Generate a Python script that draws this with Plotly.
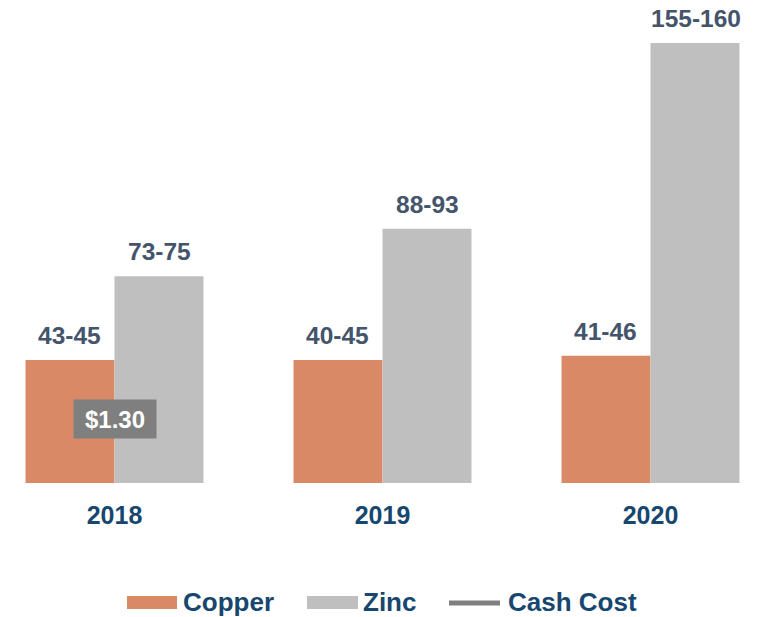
import plotly.graph_objects as go

years = ["2018", "2019", "2020"]
copper_values = [44, 44, 45.5]
zinc_values = [74, 91, 157.5]
copper_labels = ["43-45", "40-45", "41-46"]
zinc_labels = ["73-75", "88-93", "155-160"]
cash_cost = [1.30]
legend_names = ["Copper", "Zinc", "Cash Cost"]

COPPER = "#DA8966"
ZINC = "#BFBFBF"
CASH = "#7F7F7F"
VAL_COLOR = "#44546A"
CAT_COLOR = "#17476F"
FONT = "Liberation Sans, Arial, sans-serif"

W, H = 762, 617
base_px = 483
fig = go.Figure()
fig.add_trace(go.Bar(x=years, y=copper_values, name=legend_names[0], marker_color=COPPER,
                     marker_line_width=0, showlegend=False, hoverinfo="skip"))
fig.add_trace(go.Bar(x=years, y=zinc_values, name=legend_names[1], marker_color=ZINC,
                     marker_line_width=0, showlegend=False, hoverinfo="skip"))

# value labels (category index positions)
for i, y in enumerate(years):
    fig.add_annotation(x=i, y=copper_values[i], text=f"<b>{copper_labels[i]}</b>", showarrow=False,
                       xshift=-45, yanchor="bottom", yshift=9,
                       font=dict(family=FONT, size=24.5, color=VAL_COLOR))
    fig.add_annotation(x=i, y=zinc_values[i], text=f"<b>{zinc_labels[i]}</b>", showarrow=False,
                       xshift=45, yanchor="bottom", yshift=9,
                       font=dict(family=FONT, size=24.5, color=VAL_COLOR))

# cash cost label
fig.add_annotation(x=0, y=(base_px - 439) / base_px, yref="paper", text=f"<b>${cash_cost[0]:.2f}</b>",
                   showarrow=False, bgcolor=CASH, width=76, height=32, borderpad=3,
                   font=dict(family=FONT, size=24, color="white"))

# custom legend
leg_y = (base_px - 602) / base_px
shapes = [
    dict(type="rect", xref="paper", yref="paper", x0=127 / W, x1=177 / W,
         y0=(base_px - 596) / base_px, y1=(base_px - 609) / base_px, fillcolor=COPPER, line_width=0),
    dict(type="rect", xref="paper", yref="paper", x0=307 / W, x1=358 / W,
         y0=(base_px - 596) / base_px, y1=(base_px - 609) / base_px, fillcolor=ZINC, line_width=0),
    dict(type="line", xref="paper", yref="paper", x0=449 / W, x1=500 / W,
         y0=(base_px - 603) / base_px, y1=(base_px - 603) / base_px, line=dict(color=CASH, width=5)),
]
fig.update_layout(shapes=shapes)
for name, x0 in zip(legend_names, [181, 361, 506]):
    fig.add_annotation(x=x0 / W, y=leg_y, xref="paper", yref="paper", xanchor="left", yanchor="middle",
                       text=f"<b>{name}</b>", showarrow=False,
                       font=dict(family=FONT, size=26, color=CAT_COLOR))

px_per_unit = 268
center0 = 114.5
fig.update_layout(
    width=W, height=H,
    margin=dict(l=0, r=0, t=0, b=H - base_px),
    plot_bgcolor="white", paper_bgcolor="white",
    barmode="group", bargap=0.336, bargroupgap=0,
    xaxis=dict(type="category", range=[-center0 / px_per_unit, (W - center0) / px_per_unit], showline=False,
               showgrid=False, ticks="", tickfont=dict(family=FONT, size=25, color=CAT_COLOR),
               tickprefix="<b>", ticksuffix="</b>", ticklabelstandoff=15),
    yaxis=dict(range=[0, base_px / 2.794], visible=False, showgrid=False),
    showlegend=False,
    hovermode=False,
)
fig.write_html("out.html", config={"displayModeBar": False},
               post_script="document.body.style.margin='0';document.body.style.overflow='hidden';")
